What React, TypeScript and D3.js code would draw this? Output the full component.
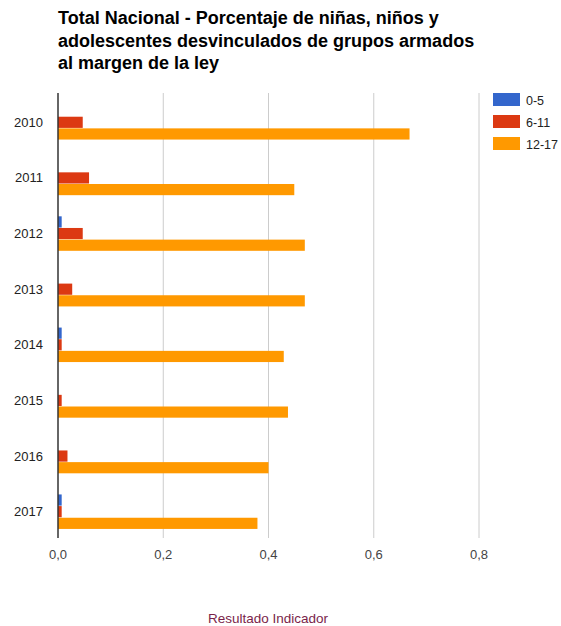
import React from "react";
import * as d3 from "d3";

const years = ["2010", "2011", "2012", "2013", "2014", "2015", "2016", "2017"];
const seriesNames = ["0-5", "6-11", "12-17"];
const colors = ["#3366cc", "#dc3912", "#ff9900"];
const values0to5 = [0, 0, 0.007, 0, 0.007, 0, 0, 0.007];
const values6to11 = [0.047, 0.059, 0.047, 0.027, 0.007, 0.007, 0.018, 0.007];
const values12to17 = [0.668, 0.449, 0.469, 0.469, 0.429, 0.437, 0.4, 0.379];
const xTicks = [0, 0.2, 0.4, 0.6, 0.8];
const titleLines = [
  "Total Nacional - Porcentaje de niñas, niños y",
  "adolescentes desvinculados de grupos armados",
  "al margen de la ley",
];
const xAxisTitle = "Resultado Indicador";

export default function App() {
  const W = 561;
  const H = 626;
  const x = d3.scaleLinear().domain([0, 0.8]).range([58, 479]);
  const y = d3.scaleBand().domain(years).range([94.5, 539.5]).paddingInner(0.38).paddingOuter(0.19);
  const inner = d3.scaleBand().domain(seriesNames).range([0, y.bandwidth()]).paddingInner(0.04);
  const series = [values0to5, values6to11, values12to17];
  const fmt = (v: number) => d3.format(".1f")(v).replace(".", ",");
  const font = "Arial, 'Liberation Sans', sans-serif";

  return (
    <svg width={W} height={H} style={{ position: "absolute", left: 0, top: 0, display: "block" }} fontFamily={font}>
      <rect x={0} y={0} width={W} height={H} fill="#ffffff" />
      {titleLines.map((t, i) => (
        <text key={i} x={58} y={24 + i * 22.5} fontSize={18} fontWeight="bold" fill="#000">
          {t}
        </text>
      ))}
      {xTicks.slice(1).map((t) => (
        <line key={t} x1={x(t)} x2={x(t)} y1={93} y2={538} stroke="#cccccc" strokeWidth={1} />
      ))}
      {years.map((yr, i) => (
        <g key={yr}>
          {series.map((s, j) => {
            const v = s[i];
            if (v <= 0) return null;
            return (
              <rect
                key={j}
                x={x(0)}
                y={(y(yr) as number) + (inner(seriesNames[j]) as number)}
                width={x(v) - x(0)}
                height={inner.bandwidth()}
                fill={colors[j]}
              />
            );
          })}
          <text x={43} y={(y(yr) as number) + y.bandwidth() / 2 + 4.5} fontSize={13} textAnchor="end" fill="#222">
            {yr}
          </text>
        </g>
      ))}
      <line x1={x(0)} x2={x(0)} y1={93} y2={538} stroke="#333333" strokeWidth={1.5} />
      {xTicks.map((t) => (
        <text key={t} x={x(t)} y={559} fontSize={13} textAnchor="middle" fill="#444">
          {fmt(t)}
        </text>
      ))}
      <text x={268} y={623} fontSize={13.5} textAnchor="middle" fill="#7a1f4a">
        {xAxisTitle}
      </text>
      {seriesNames.map((n, i) => (
        <g key={n}>
          <rect x={493} y={93 + i * 22} width={27} height={13} fill={colors[i]} />
          <text x={526} y={104.5 + i * 22} fontSize={12.5} fill="#222">
            {n}
          </text>
        </g>
      ))}
    </svg>
  );
}
